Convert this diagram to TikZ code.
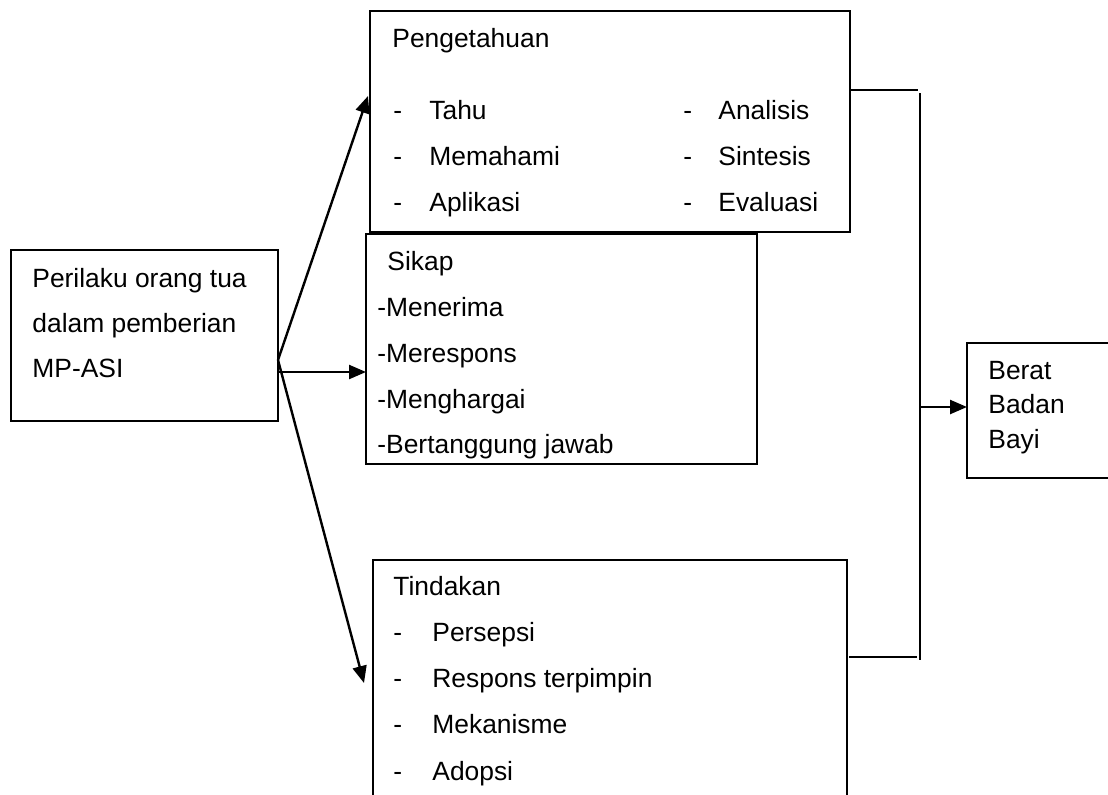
\documentclass[tikz,border=0pt]{standalone}
\usepackage{fontspec}
\setmainfont{Liberation Sans}
\usetikzlibrary{arrows.meta}
\begin{document}
\begin{tikzpicture}[x=0.5pt,y=-0.5pt,
 box/.style={draw,line width=1.1pt,anchor=north west,inner sep=0pt,outer sep=0pt},
 txt/.style={anchor=base west,inner sep=0pt,font=\fontsize{13.2}{15}\selectfont},
 link/.style={line width=1.2pt},
 arr/.style={link,-{Triangle[length=8.5pt,width=7pt]}}]
\useasboundingbox (0,0) rectangle (1108,794);
% boxes
\node[box,minimum width=133.5pt,minimum height=85.5pt] (L) at (11,250) {};
\node[box,minimum width=240pt,minimum height=110.5pt] (P) at (370,11) {};
\node[box,minimum width=195.5pt,minimum height=115pt] (S) at (366,234) {};
\node[box,minimum width=237pt,minimum height=125pt] (T) at (373,560) {};
\node[box,minimum width=80pt,minimum height=67.5pt] (B) at (967,343) {};
% texts left
\node[txt] (l1) at (32,287) {Perilaku orang tua};
\node[txt] (l2) at (32,332) {dalam pemberian};
\node[txt] (l3) at (32,377) {MP-ASI};
% pengetahuan
\node[txt] (p0) at (392,47) {Pengetahuan};
\node[txt] (pd1) at (393,119) {-};
\node[txt] (pd2) at (393,165) {-};
\node[txt] (pd3) at (393,211) {-};
\node[txt] (p1) at (429,119) {Tahu};
\node[txt] (p2) at (429,165) {Memahami};
\node[txt] (p3) at (429,211) {Aplikasi};
\node[txt] (pe1) at (683,119) {-};
\node[txt] (pe2) at (683,165) {-};
\node[txt] (pe3) at (683,211) {-};
\node[txt] (p4) at (718,119) {Analisis};
\node[txt] (p5) at (718,165) {Sintesis};
\node[txt] (p6) at (718,211) {Evaluasi};
% sikap
\node[txt] (s0) at (387,270) {Sikap};
\node[txt] (s1) at (377,316) {-Menerima};
\node[txt] (s2) at (377,362) {-Merespons};
\node[txt] (s3) at (377,408) {-Menghargai};
\node[txt] (s4) at (377,453) {-Bertanggung jawab};
% tindakan
\node[txt] (t0) at (393,595) {Tindakan};
\node[txt] (td1) at (393,641) {-};
\node[txt] (td2) at (393,687) {-};
\node[txt] (td3) at (393,733) {-};
\node[txt] (td4) at (393,780) {-};
\node[txt] (t1) at (432,641) {Persepsi};
\node[txt] (t2) at (432,687) {Respons terpimpin};
\node[txt] (t3) at (432,733) {Mekanisme};
\node[txt] (t4) at (432,780) {Adopsi};
% berat
\node[txt] (b1) at (988,379) {Berat};
\node[txt] (b2) at (988,413) {Badan};
\node[txt] (b3) at (988,448) {Bayi};
% connectors
\coordinate (src) at (278,360);
\coordinate (ptip) at (368,96);
\coordinate (ttip) at (364,683);
\coordinate (hs) at (278,372);
\coordinate (stip) at (366,372);
\draw[arr] (src) -- (ptip);
\draw[arr] (src) -- (ttip);
\draw[arr] (hs) -- (stip);
\coordinate (pr) at (850,90);
\coordinate (pr2) at (918,90);
\coordinate (vt) at (920,93);
\coordinate (vb) at (920,660);
\coordinate (tr) at (849,657);
\coordinate (tr2) at (917,657);
\coordinate (bs) at (920,407);
\coordinate (btip) at (967,407);
\draw[link] (pr) -- (pr2);
\draw[link] (vt) -- (vb);
\draw[link] (tr) -- (tr2);
\draw[arr] (bs) -- (btip);
\end{tikzpicture}
\end{document}
